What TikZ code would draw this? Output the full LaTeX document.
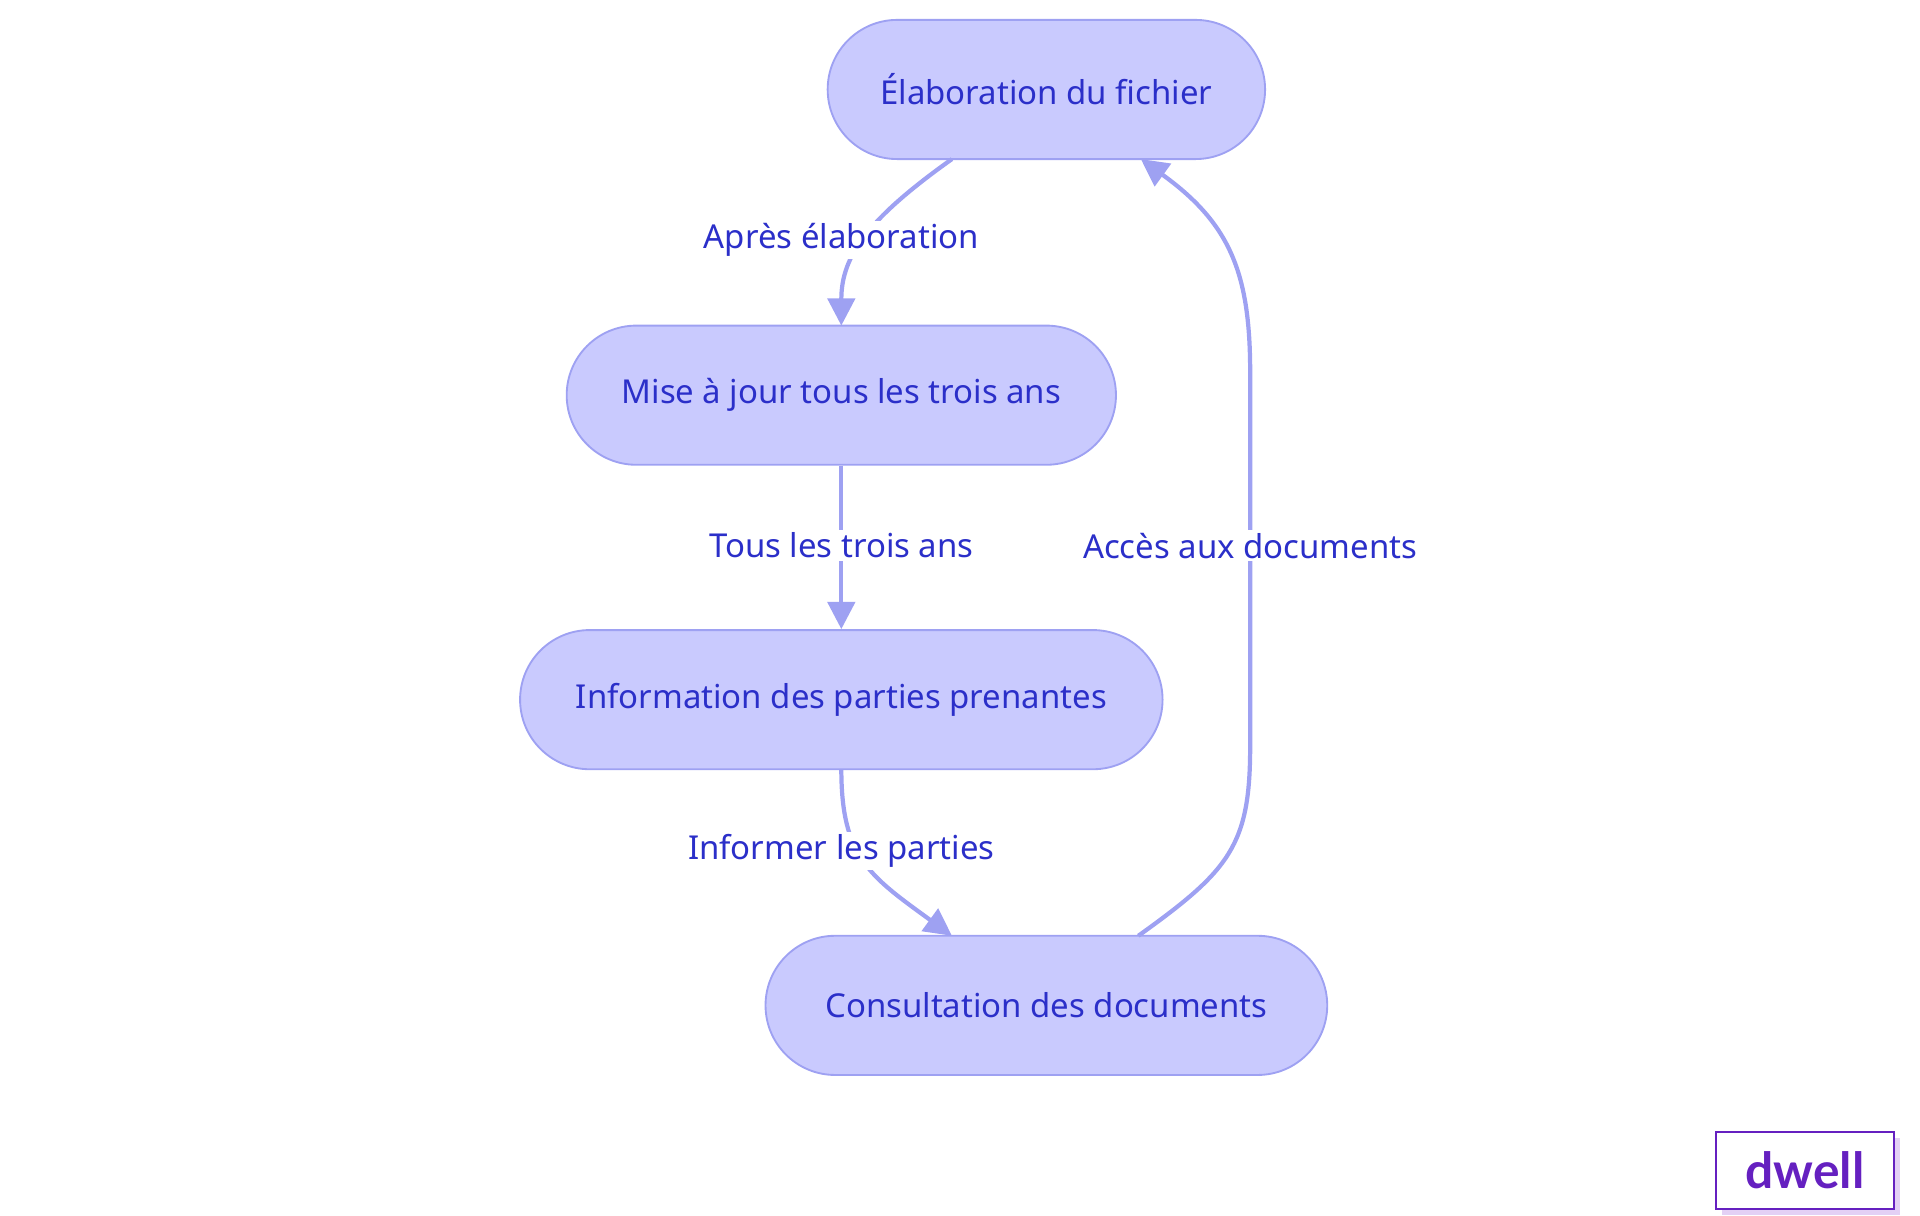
\documentclass[tikz,border=0pt]{standalone}
\usepackage{fontspec}
\setmainfont{Noto Sans}
\newfontfamily\dwfont{Lato}
\usetikzlibrary{arrows.meta}
\definecolor{nfill}{HTML}{C9CAFE}
\definecolor{nline}{HTML}{9EA1F2}
\definecolor{ntext}{HTML}{2B2FC9}
\definecolor{dw}{HTML}{6520C0}
\definecolor{dwl}{HTML}{E3D0F5}
\begin{document}
\begin{tikzpicture}[x=1pt,y=-1pt,
  box/.style={draw=nline,line width=1.5pt,fill=nfill,rounded corners=56pt,minimum height=112pt,inner sep=0pt,text=ntext,font=\fontsize{26.5}{30}\selectfont},
  lab/.style={fill=white,text=ntext,inner sep=2pt,font=\fontsize{26.5}{30}\selectfont},
  edge/.style={draw=nline,line width=3.4pt,-{Triangle[length=22pt,width=22pt]}}]
\useasboundingbox (0,0) rectangle (1545,978);
\node[box,minimum width=352pt] (E) at (842,72) {Élaboration du fichier};
\node[box,minimum width=442pt] (M) at (677,318) {Mise à jour tous les trois ans};
\node[box,minimum width=517pt] (I) at (677,563) {Information des parties prenantes};
\node[box,minimum width=452pt] (C) at (842,809) {Consultation des documents};
\coordinate (e1) at (766,128); \coordinate (m1) at (677,262);
\coordinate (i1) at (677,619); \coordinate (c1) at (766,753);
\coordinate (c2) at (916,753); \coordinate (e2) at (918,128);
\draw[edge] (e1) .. controls (700,175) and (677,205) .. (m1);
\draw[edge] (M.south) -- (I.north);
\draw[edge] (i1) .. controls (677,690) and (700,705) .. (c1);
\draw[edge] (c2) .. controls (990,700) and (1006,680) .. (1006,600) -- (1006,300) .. controls (1006,220) and (990,180) .. (e2);
\node[lab] (l1) at (677,193) {Après élaboration};
\node[lab] (l2) at (677,439) {Tous les trois ans};
\node[lab] (l3) at (677,685) {Informer les parties};
\node[lab] (l4) at (1006,439) {Accès aux documents};
\fill[dwl] (1386,916) rectangle (1529,978);
\node[draw=dw,line width=1.6pt,fill=white,minimum width=143pt,minimum height=62pt,text=dw,font=\fontsize{40}{44}\selectfont\dwfont\bfseries] (dw) at (1452.5,942) {dwell};
\end{tikzpicture}
\end{document}
